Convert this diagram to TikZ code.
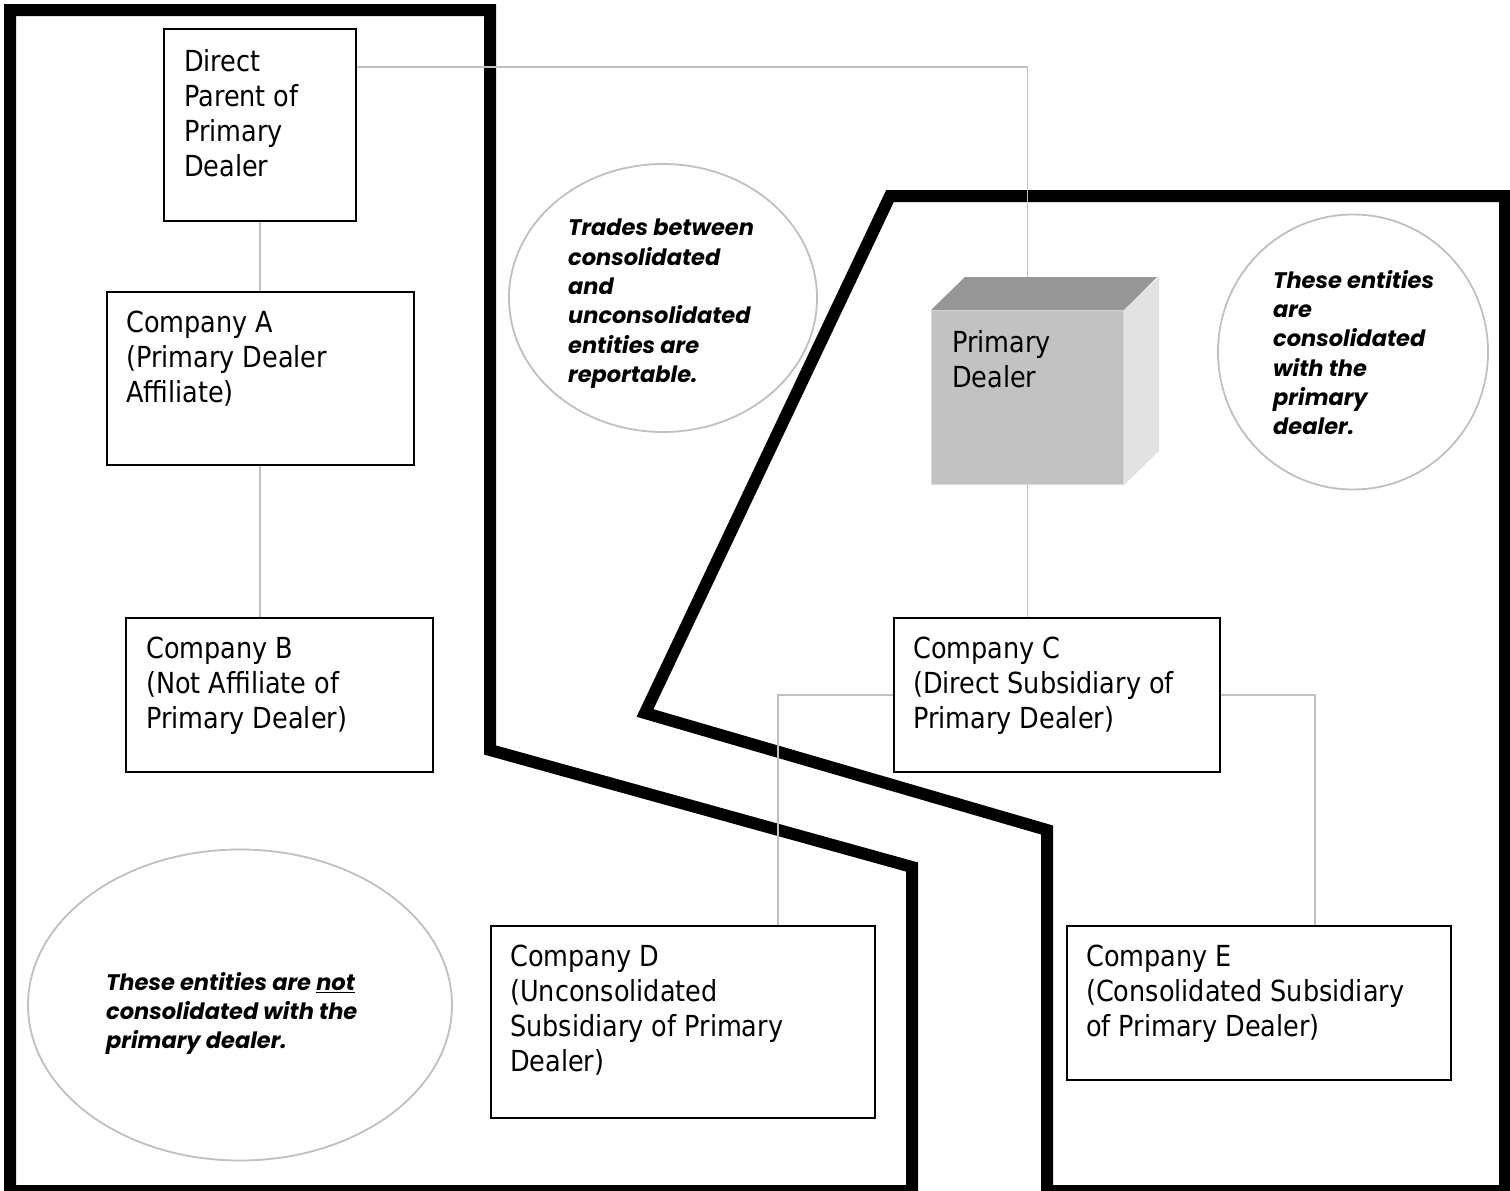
\documentclass[tikz,border=0pt]{standalone}
\usepackage{fontspec}
\setmainfont{DejaVu Sans}[FakeStretch=0.88]
\newfontfamily\notefont{Poppins}
\usetikzlibrary{calc,shapes.geometric}
\definecolor{lgray}{HTML}{C0C0C0}
\definecolor{cubefront}{HTML}{C2C2C2}
\definecolor{cubetop}{HTML}{969696}
\definecolor{cuberight}{HTML}{E2E2E2}
\begin{document}
\begin{tikzpicture}[x=1pt,y=-1pt,
  region/.style={line width=12pt, line join=miter},
  box/.style={draw=black, line width=1.6pt, rectangle, inner sep=0pt, anchor=north west},
  txt/.style={inner sep=0pt, anchor=north west, align=left, font=\fontsize{29}{35}\selectfont},
  conn/.style={draw=lgray, line width=1.8pt},
  note/.style={draw=lgray, line width=1.8pt, ellipse, inner sep=0pt},
  notetxt/.style={inner sep=0pt, anchor=north west, align=left, font=\notefont\bfseries\itshape\fontsize{22.5}{29.3}\selectfont}]
\useasboundingbox (0,0) rectangle (1510,1191);
\fill[white] (0,0) rectangle (1510,1191);

% thick region outlines
\draw[region] (10,1191) -- (10,10) -- (490,10) -- (490,750) -- (912,867) -- (912,1191) -- cycle;
\draw[region] (890,196) -- (1505,196) -- (1505,1191) -- (1047,1191) -- (1047,830) -- (645,713) -- cycle;

% note ellipses
\node[note, minimum width=308, minimum height=268] (n1) at (663,298) {};
\node[note, minimum width=270, minimum height=275] (n2) at (1353,352) {};
\node[note, minimum width=424, minimum height=311] (n3) at (240,1005) {};
\node[notetxt] (n1t) at (568,219) {Trades between\\consolidated\\and\\unconsolidated\\entities are\\reportable.};
\node[notetxt] (n2t) at (1273,270) {These entities\\are\\consolidated\\with the\\primary\\dealer.};
\node[notetxt] (n3t) at (106,972) {These entities are \underline{not}\\consolidated with the\\primary dealer.};

% boxes
\node[box, minimum width=192, minimum height=192] (dp) at (163,28) {};
\node[box, minimum width=307, minimum height=173] (a) at (106,291) {};
\node[box, minimum width=307, minimum height=154] (b) at (125,617) {};
\node[box, minimum width=326, minimum height=154] (c) at (893,617) {};
\node[box, minimum width=384, minimum height=192] (d) at (490,925) {};
\node[box, minimum width=384, minimum height=154] (e) at (1066,925) {};

% cube
\node[rectangle, fill=cubefront, draw=black!15, line width=1pt, inner sep=0pt, anchor=north west,
      minimum width=192, minimum height=174] (pd) at (931,310) {};
\fill[cubetop] (pd.north west) -- ++(34,-33) -- ++(192,0) -- (pd.north east) -- cycle;
\fill[cuberight] (pd.north east) -- ++(35,-33) -- ++(0,174) -- (pd.south east) -- cycle;
\coordinate (pdtop) at ($(pd.north)+(0,-33)$);
\coordinate (dpout) at ($(dp.north east)+(0,39)$);
\coordinate (dtop) at ($(d.north west)+(288,0)$);
\coordinate (etop) at ($(e.north west)+(249,0)$);

% texts
\node[txt] (dpt) at ($(dp.north west)+(21,21)$) {Direct\\Parent of\\Primary\\Dealer};
\node[txt] (at) at ($(a.north west)+(20,20)$) {Company A\\(Primary Dealer\\Affiliate)};
\node[txt] (bt) at ($(b.north west)+(21,20)$) {Company B\\(Not Affiliate of\\Primary Dealer)};
\node[txt] (ct) at ($(c.north west)+(20,20)$) {Company C\\(Direct Subsidiary of\\Primary Dealer)};
\node[txt] (dt) at ($(d.north west)+(20,20)$) {Company D\\(Unconsolidated\\Subsidiary of Primary\\Dealer)};
\node[txt] (et) at ($(e.north west)+(20,20)$) {Company E\\(Consolidated Subsidiary\\of Primary Dealer)};
\node[txt] (pdt) at ($(pd.north west)+(21,20)$) {Primary\\Dealer};

% connectors
\draw[conn] (dpout) -| (pdtop);
\draw[conn] (dp.south) -- (dp.south |- a.north);
\draw[conn] (a.south) -- (a.south |- b.north);
\draw[conn] (pd.south) -- (pd.south |- c.north);
\draw[conn] (c.west) -| (dtop);
\draw[conn] (c.east) -| (etop);
\end{tikzpicture}
\end{document}
